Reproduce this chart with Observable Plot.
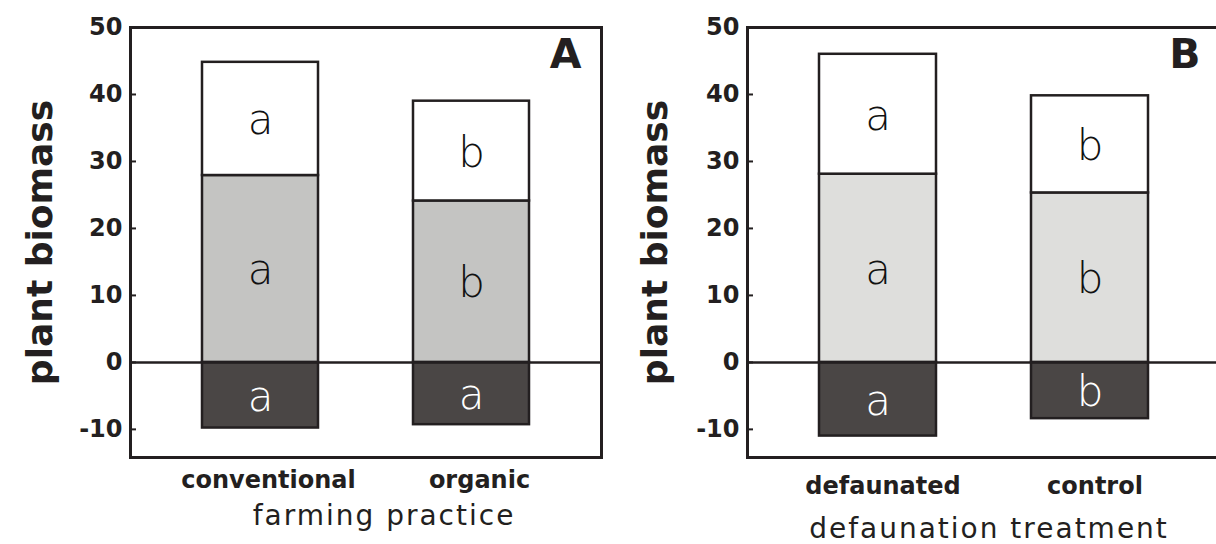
<!DOCTYPE html>
<html>
<head>
<meta charset="utf-8">
<script src="https://cdn.jsdelivr.net/npm/d3@7"></script>
<script src="https://cdn.jsdelivr.net/npm/@observablehq/plot@0.6"></script>
<style>
  body { margin: 0; background: #fff; }
  #chart { display: flex; width: 1216px; height: 544px; overflow: hidden; }
  #chart svg { flex: none; }
</style>
</head>
<body>
<div id="chart"></div>
<script>
// Panel A: farming practice
const farmingCategories = ["conventional", "organic"];
const farmingBelow = [-9.8, -9.3];   // dark segment (negative)
const farmingMid = [27.9, 24.1];     // grey segment top
const farmingTop = [44.8, 39.0];     // white segment top
const farmingLettersBelow = ["a", "a"];
const farmingLettersMid = ["a", "b"];
const farmingLettersTop = ["a", "b"];

// Panel B: defaunation treatment
const faunaCategories = ["defaunated", "control"];
const faunaBelow = [-11.0, -8.4];
const faunaMid = [28.1, 25.3];
const faunaTop = [46.0, 39.8];
const faunaLettersBelow = ["a", "b"];
const faunaLettersMid = ["a", "b"];
const faunaLettersTop = ["a", "b"];

const yTicks = [-10, 0, 10, 20, 30, 40, 50];
const ink = "#231f20";
const darkFill = "#4a4645";

function segments(cats, below, mid, top, lb, lm, lt) {
  const rows = [];
  cats.forEach((c, i) => {
    rows.push({cat: c, part: "below", y1: below[i], y2: 0, letter: lb[i]});
    rows.push({cat: c, part: "mid", y1: 0, y2: mid[i], letter: lm[i]});
    rows.push({cat: c, part: "top", y1: mid[i], y2: top[i], letter: lt[i]});
  });
  return rows;
}

function panel({cats, rows, greyFill, tag, title, width, marginLeft, marginRight,
                 catDx, catPad, titleDx, titleDy, ylabelDx}) {
  const svg = Plot.plot({
    width,
    height: 544,
    marginTop: 27,
    marginBottom: 87,
    marginLeft,
    marginRight,
    style: {fontFamily: "DejaVu Sans", color: ink, background: "white", overflow: "visible"},
    x: {domain: cats, paddingInner: 0.45, paddingOuter: 0.34, axis: null},
    y: {domain: [-14.2, 50], axis: null},
    color: {domain: ["below", "mid", "top"], range: [darkFill, greyFill, "#ffffff"]},
    marks: [
      Plot.barY(rows, {x: "cat", y1: "y1", y2: "y2", fill: "part", stroke: ink, strokeWidth: 2.5}),
      Plot.ruleY([0], {stroke: ink, strokeWidth: 2.5}),
      Plot.text(rows, {
        x: "cat", y: d => (d.y1 + d.y2) / 2, text: "letter",
        fill: d => d.part === "below" ? "#ffffff" : "#111111",
        fontSize: 42, fontWeight: 200, dy: 2
      }),
      Plot.axisY({
        ticks: yTicks, tickSize: -6, tickPadding: 14, strokeWidth: 2,
        tickFormat: d => String(d), fontSize: 24, fontWeight: "bold", label: null
      }),
      Plot.axisX({
        tickSize: 0, tickPadding: catPad, dx: catDx,
        fontSize: 24, fontWeight: "bold", label: null
      }),
      Plot.text(["plant biomass"], {
        frameAnchor: "left", textAnchor: "middle", rotate: -90, dx: ylabelDx,
        fontSize: 36, fontWeight: "bold"
      }),
      Plot.text([title], {
        frameAnchor: "bottom", textAnchor: "middle", lineAnchor: "bottom",
        dx: titleDx, dy: titleDy, fontSize: 28
      }),
      Plot.text([tag], {
        frameAnchor: "top-right", textAnchor: "end", lineAnchor: "top",
        dx: -20, dy: 11, fontSize: 41, fontWeight: "bold"
      }),
      Plot.frame({stroke: ink, strokeWidth: 3})
    ]
  });
  // widen the axis title's tracking
  d3.select(svg).selectAll("text")
    .filter(function () { return this.textContent === title; })
    .style("letter-spacing", "2px");
  return svg;
}

const chart = document.getElementById("chart");
chart.append(panel({
  cats: farmingCategories,
  rows: segments(farmingCategories, farmingBelow, farmingMid, farmingTop,
                 farmingLettersBelow, farmingLettersMid, farmingLettersTop),
  greyFill: "#c4c4c2", tag: "A", title: "farming practice",
  width: 608, marginLeft: 130, marginRight: 7,
  catDx: 8, catPad: 13, titleDx: 18, titleDy: 67, ylabelDx: -90
}));
chart.append(panel({
  cats: faunaCategories,
  rows: segments(faunaCategories, faunaBelow, faunaMid, faunaTop,
                 faunaLettersBelow, faunaLettersMid, faunaLettersTop),
  greyFill: "#dededc", tag: "B", title: "defaunation treatment",
  width: 612, marginLeft: 139, marginRight: 0,
  catDx: 5, catPad: 19, titleDx: 5, titleDy: 80, ylabelDx: -92
}));
</script>
</body>
</html>
